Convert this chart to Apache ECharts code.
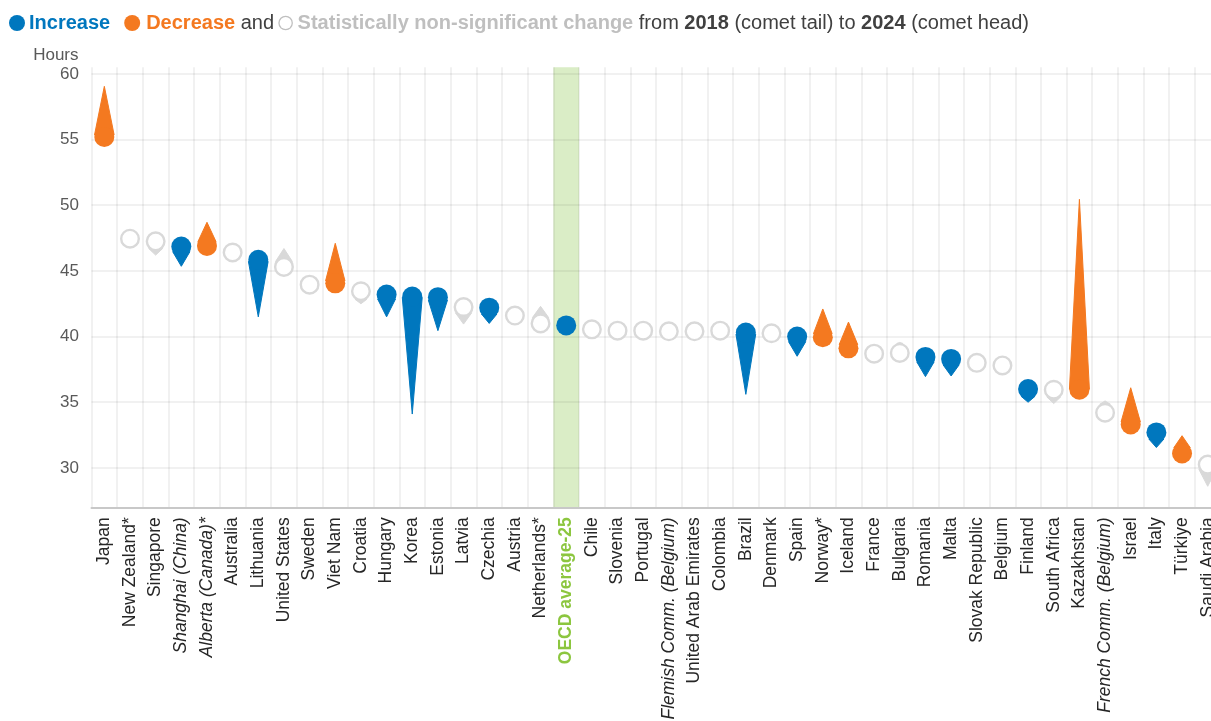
<!DOCTYPE html>
<html>
<head>
<meta charset="utf-8">
<script src="https://cdn.jsdelivr.net/npm/echarts@6/dist/echarts.min.js"></script>
<style>html,body{margin:0;padding:0;background:#fff}#c{width:1211px;height:721px}</style>
</head>
<body>
<div id="c"></div>
<script>
const categories = ['Japan','New Zealand*','Singapore','Shanghai (China)','Alberta (Canada)*','Australia','Lithuania','United States','Sweden','Viet Nam','Croatia','Hungary','Korea','Estonia','Latvia','Czechia','Austria','Netherlands*','OECD average-25','Chile','Slovenia','Portugal','Flemish Comm. (Belgium)','United Arab Emirates','Colombia','Brazil','Denmark','Spain','Norway*','Iceland','France','Bulgaria','Romania','Malta','Slovak Republic','Belgium','Finland','South Africa','Kazakhstan','French Comm. (Belgium)','Israel','Italy','Türkiye','Saudi Arabia'];
const hours2024 = [55.2,47.45,47.25,46.85,46.9,46.4,45.85,45.3,43.95,44.05,43.45,43.2,43.05,43.0,42.25,42.2,41.6,41.0,40.85,40.55,40.45,40.45,40.4,40.4,40.45,40.3,40.25,40.0,39.95,39.1,38.7,38.75,38.45,38.3,38.0,37.8,36.0,35.95,35.95,34.2,33.3,32.7,31.1,30.25];
const hours2018 = [59.05,47.6,46.2,45.35,48.7,46.5,41.5,46.7,44.1,47.1,42.5,41.5,34.1,40.45,40.95,41.0,41.5,42.3,40.45,40.6,40.5,40.4,40.35,40.5,41.2,35.6,40.3,38.5,42.1,41.1,38.8,39.55,36.95,37.0,38.1,37.9,35.0,34.9,50.45,35.1,36.1,31.55,32.45,28.6];
// I = significant increase, D = significant decrease, N = non-significant
const changeType = ['D','N','N','I','D','N','I','N','N','D','N','I','I','I','N','I','N','N','I','N','N','N','N','N','N','I','N','I','D','D','N','N','I','I','N','N','I','N','D','N','D','I','D','N'];
const italicNames = ['Shanghai (China)','Alberta (Canada)*','Flemish Comm. (Belgium)','French Comm. (Belgium)'];
const averageName = 'OECD average-25';
const Y_MIN = 27, Y_MAX = 60.5;

const BLUE = '#0077BE', ORANGE = '#F47920', GRAY = '#D9D9D9';
const GREEN_TXT = '#8CC63F', GREEN_BAND = '#DAEDC6';
const GRID_LINE = 'rgba(0,0,0,0.055)';

const cometData = categories.map((c, i) => [i, hours2018[i], hours2024[i], changeType[i]]);

function renderComet(params, api) {
  const i = api.value(0);
  const tail = api.coord([i, api.value(1)]);
  const head = api.coord([i, api.value(2)]);
  const t = cometData[params.dataIndex][3];
  const fill = t === 'I' ? BLUE : t === 'D' ? ORANGE : GRAY;
  const r = 10;
  const children = [];
  const dx = tail[0] - head[0], dy = tail[1] - head[1];
  const d = Math.hypot(dx, dy);
  if (d > r) {
    const ang = Math.atan2(dy, dx);
    const th = Math.acos(r / d);
    const p1 = [head[0] + r * Math.cos(ang + th), head[1] + r * Math.sin(ang + th)];
    const p2 = [head[0] + r * Math.cos(ang - th), head[1] + r * Math.sin(ang - th)];
    children.push({type: 'polygon', shape: {points: [tail, p1, p2]},
      style: {fill: fill, stroke: fill, lineWidth: 1, lineJoin: 'round'}});
  }
  if (t === 'N') {
    children.push({type: 'circle', shape: {cx: head[0], cy: head[1], r: r - 1.2},
      style: {fill: '#fff', stroke: GRAY, lineWidth: 2.4}});
  } else {
    children.push({type: 'circle', shape: {cx: head[0], cy: head[1], r: r},
      style: {fill: fill}});
  }
  return {type: 'group', children: children};
}

const SANS = '"Liberation Sans", Arial, sans-serif';

const chart = echarts.init(document.getElementById('c'), null, {renderer: 'canvas'});
chart.setOption({
  animation: false,
  backgroundColor: '#fff',
  title: {
    left: 9, top: 13, padding: 0,
    text: '{bd|}{inc|Increase}{sp|}{od|}{dec|Decrease} {n|and} {gd|}{ns|Statistically non-significant change} {n|from} {b|2018} {n|(comet tail) to} {b|2024} {n|(comet head)}',
    textStyle: {
      fontFamily: SANS, fontSize: 20, fontWeight: 'normal',
      rich: {
        bd: {width: 16, height: 16, borderRadius: 8, backgroundColor: BLUE},
        od: {width: 16, height: 16, borderRadius: 8, backgroundColor: ORANGE},
        sp: {width: 14},
        gd: {width: 12, height: 12, borderRadius: 6, backgroundColor: '#fff', borderColor: '#BFBFBF', borderWidth: 1.3},
        inc: {color: BLUE, fontWeight: 'bold', fontSize: 20, fontFamily: SANS, padding: [0, 0, 0, 4]},
        dec: {color: ORANGE, fontWeight: 'bold', fontSize: 20, fontFamily: SANS, padding: [0, 0, 0, 6]},
        ns: {color: '#BFBFBF', fontWeight: 'bold', fontSize: 20, fontFamily: SANS, padding: [0, 0, 0, 6]},
        n: {color: '#404040', fontWeight: 'normal', fontSize: 20, fontFamily: SANS},
        b: {color: '#404040', fontWeight: 'bold', fontSize: 20, fontFamily: SANS}
      }
    }
  },
  grid: {left: 91.5, top: 67.3, width: 25.66 * categories.length, height: 440, containLabel: false, outerBoundsMode: 'none'},
  xAxis: {
    type: 'category', data: categories, boundaryGap: true,
    axisLine: {show: true, lineStyle: {color: '#C8C8C8', width: 2}},
    axisTick: {show: false},
    splitLine: {show: true, interval: 0, lineStyle: {color: GRID_LINE, width: 2}},
    axisLabel: {
      interval: 0, rotate: 90, margin: 10, fontSize: 17.5, fontFamily: SANS, color: '#262626',
      hideOverlap: false,
      formatter: function (v) {
        if (v === averageName) return '{avg|' + v + '}';
        if (italicNames.indexOf(v) >= 0) return '{it|' + v + '}';
        return v;
      },
      rich: {
        avg: {color: GREEN_TXT, fontWeight: 'bold', fontSize: 17.5, fontFamily: SANS},
        it: {fontStyle: 'italic', fontSize: 17.5, fontFamily: SANS, color: '#262626'}
      }
    }
  },
  yAxis: {
    type: 'value', min: Y_MIN, max: Y_MAX, splitNumber: 6,
    name: 'Hours', nameLocation: 'end', nameGap: 3,
    nameTextStyle: {align: 'right', padding: [0, 13, 0, 0], fontSize: 17, fontFamily: SANS, color: '#595959'},
    axisLine: {show: false}, axisTick: {show: false},
    splitLine: {show: true, showMinLine: false, showMaxLine: false, lineStyle: {color: GRID_LINE, width: 2}},
    axisLabel: {
      margin: 12.5, fontSize: 17, fontFamily: SANS, color: '#595959',
      showMinLabel: false, showMaxLabel: false,
      formatter: function (v) { return (Math.abs(v % 5) < 1e-9) ? String(v) : ''; }
    }
  },
  series: [
    {
      type: 'bar', silent: true, z: -1, barWidth: '100%',
      itemStyle: {color: GREEN_BAND},
      data: categories.map(c => c === averageName ? Y_MAX : null)
    },
    {
      type: 'custom', renderItem: renderComet, z: 3,
      encode: {x: 0, y: [1, 2]},
      data: cometData.map(r => [r[0], r[1], r[2]])
    }
  ]
});
</script>
</body>
</html>
